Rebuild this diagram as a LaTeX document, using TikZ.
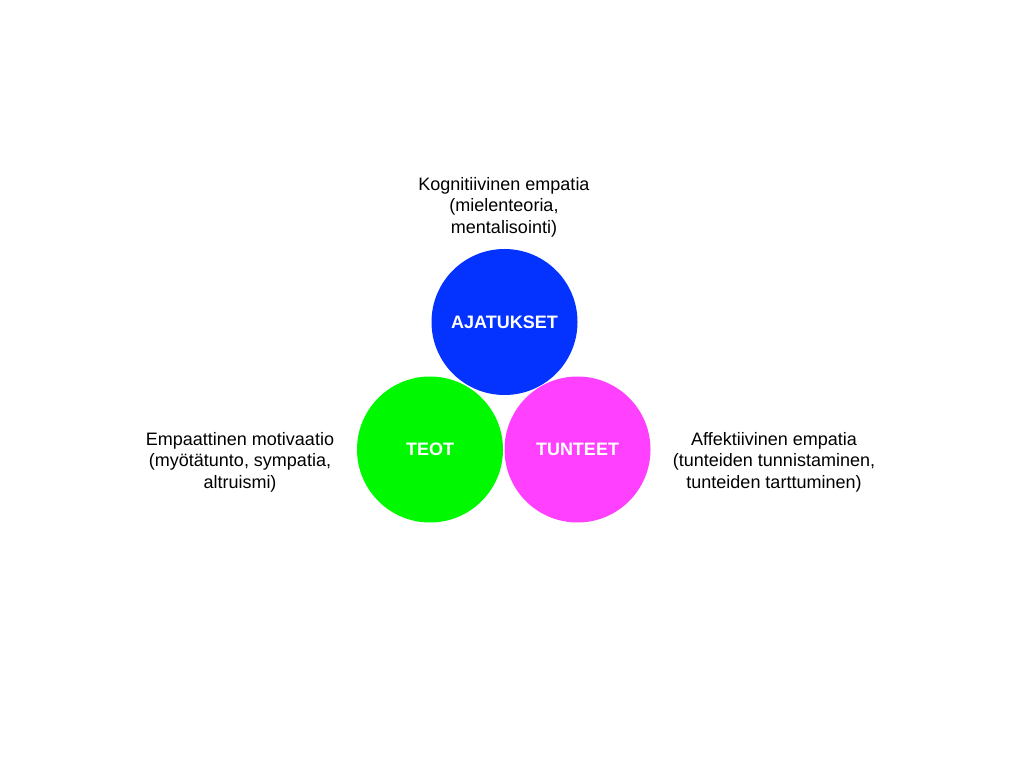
\documentclass[tikz,border=0pt]{standalone}
\usepackage{fontspec}
\setmainfont{Liberation Sans}
\definecolor{ajatussin}{HTML}{0433FF}
\definecolor{teovihrea}{HTML}{00F900}
\definecolor{tunnepinkki}{HTML}{FF40FF}
\begin{document}
\begin{tikzpicture}[x=0.75pt, y=0.75pt, line join=round, line cap=round,
		font=\fontsize{13.5}{16.2}\selectfont,
		ympyra/.style={circle, minimum size=109.5pt, inner sep=0pt, text=white, font=\fontsize{13.5}{16.2}\selectfont\bfseries},
		selite/.style={align=center, inner sep=0pt}]
	% Kuvan rajat
	\useasboundingbox (0,0) rectangle (1024,768);
	
	% Kolme ympyrää
	\node[ympyra, fill=ajatussin] (ajatukset) at (504.5,446) {AJATUKSET};
	\node[ympyra, fill=teovihrea] (teot) at (430,318.5) {TEOT};
	\node[ympyra, fill=tunnepinkki] (tunteet) at (577.5,318.5) {TUNTEET};
	
	% Selitteet
	\node[selite] (kognitiivinen) at (504,561) {Kognitiivinen empatia\\(mielenteoria,\\mentalisointi)};
	\node[selite] (motivaatio) at (240,306) {Empaattinen motivaatio\\(myötätunto, sympatia,\\altruismi)};
	\node[selite] (affektiivinen) at (774,306) {Affektiivinen empatia\\(tunteiden tunnistaminen,\\tunteiden tarttuminen)};
\end{tikzpicture}
\end{document}
